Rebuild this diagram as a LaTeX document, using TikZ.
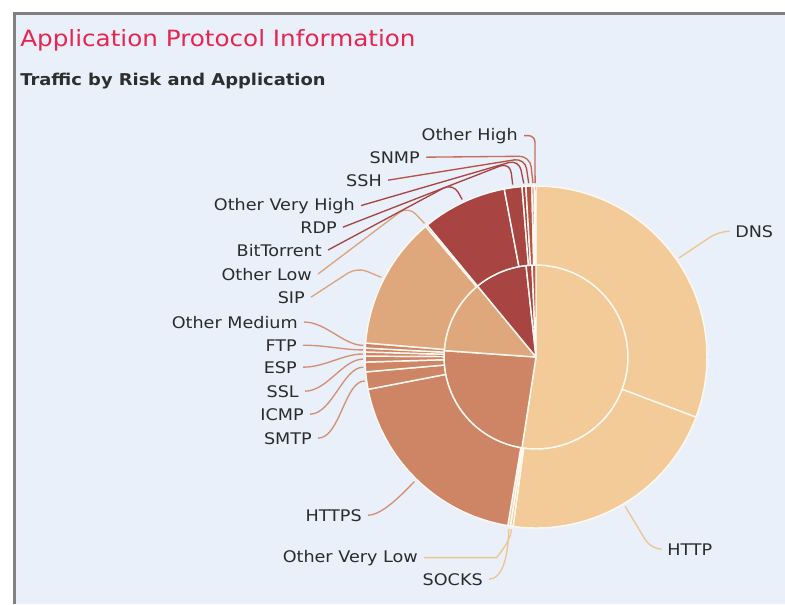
\documentclass[tikz,border=0pt]{standalone}
\usepackage{fontspec}
\setmainfont{DejaVu Sans}[FakeStretch=1.1]
\usepackage{tikz}
\usetikzlibrary{positioning}
\usepackage{xcolor}

\definecolor{panelbg}{HTML}{E9F0FA}
\definecolor{framegray}{HTML}{808080}
\definecolor{titlered}{HTML}{E82450}
\definecolor{subtext}{HTML}{2E2E2E}
\definecolor{labeltext}{HTML}{2B2B2B}
\definecolor{sepline}{HTML}{FFF8F0}
\definecolor{vlow}{HTML}{F2CB98}
\definecolor{low}{HTML}{CD8566}
\definecolor{med}{HTML}{DFA87C}
\definecolor{high}{HTML}{A84441}
\definecolor{hightwo}{HTML}{B55043}
\definecolor{highthree}{HTML}{C66C58}
\definecolor{crit}{HTML}{BC5C4A}
\definecolor{vlowline}{HTML}{EFC48F}
\definecolor{lowline}{HTML}{D39074}
\definecolor{medline}{HTML}{DDA47C}

\tikzset{
  lbl/.style={inner sep=0pt, inner xsep=4.5pt, text=labeltext, font=\fontsize{12}{14}\selectfont},
  lead/.style={line width=1pt, rounded corners=8pt},
  wedge/.style={draw=sepline, line width=1.1pt, line join=round},
}

\begin{document}
\begin{tikzpicture}[x=0.75pt, y=0.75pt, yscale=-1]
    \useasboundingbox (0,0) rectangle (785,604);
    \fill[white] (0,0) rectangle (785,604);
    \fill[panelbg] (15,14) rectangle (785,604);
    \draw[framegray, line width=2.25pt] (14.5,604) -- (14.5,13.5) -- (785,13.5);

    % titles
    \node[anchor=base west, inner sep=0pt, text=titlered, font=\fontsize{16.8}{20}\selectfont] (title) at (20,46) {Application Protocol Information};
    \node[anchor=base west, inner sep=0pt, text=subtext, font=\bfseries\fontsize{12.2}{14}\selectfont] (subtitle) at (20,85) {Traffic by Risk and Application};

    % pie, centre at (536,357)
    \begin{scope}[shift={(536,357)}]
        % inner ring: risk
        \foreach \s/\e/\col in {-90/98.8/vlow, 98.8/184/low, 184/230.5/med, 230.5/263.8/high, 263.8/267.5/high, 267.5/270/crit}
            \filldraw[wedge, fill=\col] (0,0) -- (\s:92) arc[start angle=\s, end angle=\e, radius=92] -- cycle;
        % outer ring: application
        \foreach \s/\e/\col in {-90/20.6/vlow, 20.6/97.7/vlow, 97.7/98.6/vlow, 98.6/99.5/vlow,
                99.5/169.1/low, 169.1/175/low, 175/178.3/low, 178.3/180.3/low, 180.3/181.7/low, 181.7/183/low, 183/184.7/low,
                184.7/229.8/med, 229.8/230.5/med,
                230.5/259.3/high, 259.3/265.3/high, 265.3/266.6/high, 266.6/268.6/hightwo, 268.6/269.4/highthree, 269.4/270/highthree}
            \filldraw[wedge, fill=\col] (\s:92) -- (\s:171) arc[start angle=\s, end angle=\e, radius=171]
                -- (\e:92) arc[start angle=\e, end angle=\s, radius=92] -- cycle;
        % leader ends
        \coordinate (e-dns) at (-34.7:174);
        \coordinate (e-http) at (59.15:174);
        \coordinate (e-ovlow) at (98.15:174);
        \coordinate (e-socks) at (99.05:174);
        \coordinate (e-https) at (134.3:174);
        \coordinate (e-smtp) at (172.05:173);
        \coordinate (e-icmp) at (176.65:173);
        \coordinate (e-ssl) at (179.3:173);
        \coordinate (e-esp) at (181:173);
        \coordinate (e-ftp) at (182.35:173);
        \coordinate (e-omed) at (183.85:173);
        \coordinate (e-sip) at (207.25:174);
        \coordinate (e-olow) at (230.15:174);
        \coordinate (e-bittor) at (244.9:174);
        \coordinate (e-rdp) at (262.3:174);
        \coordinate (e-ovhigh) at (265.95:174);
        \coordinate (e-ssh) at (267.6:174);
        \coordinate (e-snmp) at (269:174);
        \coordinate (e-ohigh) at (269.7:174);
    \end{scope}

    % labels
    \node[lbl, anchor=base west] (dns) at (729,237) {DNS};
    \node[lbl, anchor=base west] (http) at (661,555) {HTTP};
    \node[lbl, anchor=base east] (socks) at (489,585) {SOCKS};
    \node[lbl, anchor=base east] (ovlow) at (424,562) {Other Very Low};
    \node[lbl, anchor=base east] (https) at (368,521) {HTTPS};
    \node[lbl, anchor=base east] (smtp) at (318,444) {SMTP};
    \node[lbl, anchor=base east] (icmp) at (310,420) {ICMP};
    \node[lbl, anchor=base east] (ssl) at (305,397) {SSL};
    \node[lbl, anchor=base east] (esp) at (303,373) {ESP};
    \node[lbl, anchor=base east] (ftp) at (303,351) {FTP};
    \node[lbl, anchor=base east] (omed) at (304,328) {Other Medium};
    \node[lbl, anchor=base east] (sip) at (311,303) {SIP};
    \node[lbl, anchor=base east] (olow) at (318,280) {Other Low};
    \node[lbl, anchor=base east] (bittor) at (328,256) {BitTorrent};
    \node[lbl, anchor=base east] (rdp) at (343,233) {RDP};
    \node[lbl, anchor=base east] (ovhigh) at (361,210) {Other Very High};
    \node[lbl, anchor=base east] (ssh) at (388,186) {SSH};
    \node[lbl, anchor=base east] (snmp) at (426,163) {SNMP};
    \node[lbl, anchor=base east] (ohigh) at (524,140) {Other High};

    % leaders
    \draw[lead, vlowline] (dns.west) -- ++(-10,0) -- (e-dns);
    \draw[lead, vlowline] (http.west) -- ++(-10,0) -- (e-http);
    \draw[lead, vlowline] (socks.east) .. controls +(14,0) and +(0,25) .. (e-socks);
    \draw[lead, vlowline] (ovlow.east) -- ++(62,0) .. controls +(10,0) and +(0,12) .. (e-ovlow);
    \draw[lead, lowline] (https.east) .. controls +(15,0) and +(-10,10) .. (e-https);
    \draw[lead, lowline] (smtp.east) .. controls +(22,0) and +(-20,0) .. (e-smtp);
    \draw[lead, lowline] (icmp.east) .. controls +(22,0) and +(-20,0) .. (e-icmp);
    \draw[lead, lowline] (ssl.east) .. controls +(22,0) and +(-20,0) .. (e-ssl);
    \draw[lead, lowline] (esp.east) .. controls +(22,0) and +(-20,0) .. (e-esp);
    \draw[lead, lowline] (ftp.east) .. controls +(22,0) and +(-20,0) .. (e-ftp);
    \draw[lead, lowline] (omed.east) .. controls +(22,0) and +(-20,0) .. (e-omed);
    \draw[lead, medline] (sip.east) -- ++(46,-30) -- (e-sip);
    \draw[lead, medline] (olow.east) -- ++(90,-68) -- (e-olow);
    \draw[lead, high] (bittor.east) -- ++(125,-67) -- (e-bittor);
    \draw[lead, high] (rdp.east) -- ++(167,-65) -- (e-rdp);
    \draw[lead, high] (ovhigh.east) -- ++(158,-46) -- (e-ovhigh);
    \draw[lead, hightwo] (ssh.east) -- ++(137,-22) -- (e-ssh);
    \draw[lead, highthree] (snmp.east) -- ++(104,-1) -- (e-snmp);
    \draw[lead, highthree, rounded corners=5pt] (ohigh.east) -- ++(11,0) -- (e-ohigh);
\end{tikzpicture}
\end{document}
